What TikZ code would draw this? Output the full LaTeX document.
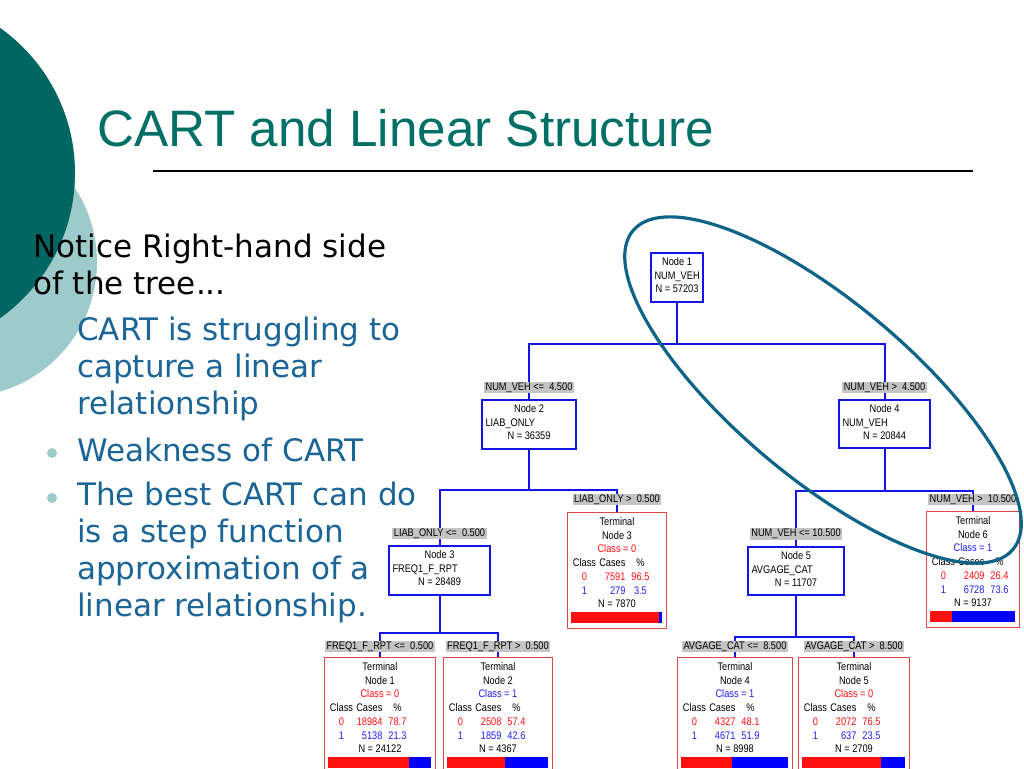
\documentclass[tikz,border=0pt]{standalone}
\usepackage{fontspec}
\newfontfamily\titlefont{Liberation Sans}
\newfontfamily\bodyfont{DejaVu Sans}
\newfontfamily\treefont[FakeStretch=0.84]{Liberation Sans}
\definecolor{darkteal}{HTML}{006661}
\definecolor{lightteal}{HTML}{9DCACA}
\definecolor{titleteal}{HTML}{007066}
\definecolor{bodyblue}{HTML}{1A6496}
\definecolor{treeblue}{HTML}{1414E6}
\definecolor{boxred}{HTML}{E04848}
\definecolor{tred}{HTML}{FF1010}
\definecolor{tblue}{HTML}{2020F0}
\definecolor{labgray}{HTML}{C4C4C4}
\definecolor{ellcol}{HTML}{0E6487}
\newcommand\tcell[3]{\makebox[\linewidth][l]{\hspace{5pt}\makebox[24pt][c]{#1}\makebox[29pt][r]{#2}\hspace{3pt}\makebox[24pt][c]{#3}}}
\newcommand\ttextbox[9]{%
  \path (#1.north) ++(0,13.5) node[ttxt] (#1-t) {\parbox[t]{#2pt}{\centering Terminal\\Node #3\\{\ifnum#4=0 \color{tred}\else\color{tblue}\fi Class = #4}\\\tcell{Class}{Cases}{\%}\\{\color{tred}\tcell{0}{#5}{#6}}\\{\color{tblue}\tcell{1}{#7}{#8}}\\N = #9}};}
\newcommand\stextbox[5]{%
  \path (#1.north) ++(0,13.5) node[ttxt] (#1-t) {\parbox[t]{#2pt}{\centering #3\\\makebox[\linewidth][l]{\hspace{3.5pt}#4}\\#5}};}
\newcommand\tbar[5]{% name, left, top, width, frac
  \pgfmathsetmacro\redend{#2+4+#5*(#4-8)}%
  \fill[tred] (#2+4,#3+100) rectangle (\redend,#3+111);
  \fill[blue] (\redend,#3+100) rectangle (#2+#4-4,#3+111);}
\tikzset{
  tl/.style={line width=2pt, draw=treeblue},
  sbox/.style={draw=treeblue, line width=2pt, fill=white, inner sep=0pt, anchor=north west},
  tbox/.style={draw=boxred, line width=0.9pt, fill=white, inner sep=0pt, anchor=north west, minimum height=116pt},
  cond/.style={fill=labgray, inner xsep=1.5pt, inner ysep=0.6pt, text height=8pt, text depth=2.4pt, font=\treefont\fontsize{11}{13.7}\selectfont},
  ttxt/.style={inner sep=0pt, anchor=base, font=\treefont\fontsize{11}{13.7}\selectfont},
  bodytxt/.style={inner sep=0pt, anchor=base west, font=\bodyfont\fontsize{31}{37}\selectfont},
  bul/.style={fill=lightteal},
}
\begin{document}
\begin{tikzpicture}[x=1pt,y=-1pt]
\useasboundingbox (0,0) rectangle (1024,768);
\clip (0,0) rectangle (1024,768);
% background circles
\fill[lightteal] (-38,262) circle[radius=135];
\fill[darkteal] (-103,173) circle[radius=178];
% title
\node[inner sep=0pt, anchor=base west, text=titleteal, font=\titlefont\fontsize{51.2}{60}\selectfont] (title) at (97,146) {CART and Linear Structure};
\draw[line width=1.2pt] (153,171) -- (973,171);
% body text
\node[bodytxt, text=black] (p1) at (33,257) {\parbox[t]{400pt}{\raggedright Notice Right-hand side\\of the tree...}};
\node[bodytxt, text=bodyblue] (p2) at (77,340) {\parbox[t]{400pt}{\raggedright CART is struggling to\\capture a linear\\relationship}};
\node[bodytxt, text=bodyblue] (p3) at (77,461) {Weakness of CART};
\node[bodytxt, text=bodyblue] (p4) at (77,505) {\parbox[t]{400pt}{\raggedright The best CART can do\\is a step function\\approximation of a\\linear relationship.}};
\fill[bul] (52,453) circle[radius=5];
\fill[bul] (52,498) circle[radius=5];
% split nodes
\node[sbox, minimum width=52pt, minimum height=49pt] (n1) at (650,252) {};
\node[sbox, minimum width=94pt, minimum height=49pt] (n2) at (481,399) {};
\node[sbox, minimum width=101pt, minimum height=49pt] (n3) at (388,545) {};
\node[sbox, minimum width=91pt, minimum height=48pt] (n4) at (838,399) {};
\node[sbox, minimum width=96pt, minimum height=48pt] (n5) at (747,546) {};
% terminal nodes
\node[tbox, minimum width=99pt] (tn3) at (567,512) {};
\node[tbox, minimum width=93pt] (tn6) at (926,511) {};
\node[tbox, minimum width=111pt] (tn1) at (324,657) {};
\node[tbox, minimum width=109pt] (tn2) at (443,657) {};
\node[tbox, minimum width=115pt] (tn4) at (677,657) {};
\node[tbox, minimum width=111pt] (tn5) at (798,657) {};
% texts
\stextbox{n1}{52}{Node 1}{NUM\_VEH}{N = 57203}
\stextbox{n2}{94}{Node 2}{LIAB\_ONLY}{N = 36359}
\stextbox{n3}{101}{Node 3}{FREQ1\_F\_RPT}{N = 28489}
\stextbox{n4}{91}{Node 4}{NUM\_VEH}{N = 20844}
\stextbox{n5}{96}{Node 5}{AVGAGE\_CAT}{N = 11707}
\ttextbox{tn3}{99}{3}{0}{7591}{96.5}{279}{3.5}{7870}
\ttextbox{tn6}{93}{6}{1}{2409}{26.4}{6728}{73.6}{9137}
\ttextbox{tn1}{111}{1}{0}{18984}{78.7}{5138}{21.3}{24122}
\ttextbox{tn2}{109}{2}{1}{2508}{57.4}{1859}{42.6}{4367}
\ttextbox{tn4}{115}{4}{1}{4327}{48.1}{4671}{51.9}{8998}
\ttextbox{tn5}{111}{5}{0}{2072}{76.5}{637}{23.5}{2709}
% bars
\tbar{tn3}{567}{512}{99}{0.965}
\tbar{tn6}{926}{511}{93}{0.264}
\tbar{tn1}{324}{657}{111}{0.787}
\tbar{tn2}{443}{657}{109}{0.574}
\tbar{tn4}{677}{657}{115}{0.481}
\tbar{tn5}{798}{657}{111}{0.765}
% connectors
\draw[tl] (n1.south) -- ++(0,41) coordinate (j1);
\draw[tl] (n2.north) |- (j1) -| (n4.north);
\draw[tl] (n2.south) -- ++(0,40) coordinate (j2);
\draw[tl] (n3.north) |- (j2) -| (tn3.north);
\draw[tl] (n4.south) -- ++(0,42) coordinate (j4);
\draw[tl] (n5.north) |- (j4) -| (tn6.north);
\draw[tl] (n3.south) -- ++(0,37) coordinate (j3);
\draw[tl] (tn1.north) |- (j3) -| (tn2.north);
\draw[tl] (n5.south) -- ++(0,41) coordinate (j5);
\draw[tl] (tn4.north) |- (j5) -| (tn5.north);
% condition labels
\path (n2.north) ++(0,-11.5) node[cond] (c1) {NUM\_VEH <=\ \ 4.500};
\path (n4.north) ++(0,-11.5) node[cond] (c2) {NUM\_VEH >\ \ 4.500};
\path (n3.north) ++(0,-11.5) node[cond] (c3) {LIAB\_ONLY <=\ \ 0.500};
\path (tn3.north) ++(0,-12.5) node[cond] (c4) {LIAB\_ONLY >\ \ 0.500};
\path (n5.north) ++(0,-12) node[cond] (c5) {NUM\_VEH <= 10.500};
\path (tn6.north) ++(0,-11.5) node[cond] (c6) {NUM\_VEH >\ \ 10.500};
\path (tn1.north) ++(0,-10.5) node[cond] (c7) {FREQ1\_F\_RPT <=\ \ 0.500};
\path (tn2.north) ++(0,-10.5) node[cond] (c8) {FREQ1\_F\_RPT >\ \ 0.500};
\path (tn4.north) ++(0,-10.5) node[cond] (c9) {AVGAGE\_CAT <=\ \ 8.500};
\path (tn5.north) ++(0,-10.5) node[cond] (c10) {AVGAGE\_CAT >\ \ 8.500};
% highlight ellipse
\draw[ellcol, line width=3.2pt, rotate around={-40:(823,390)}] (823,390) ellipse [x radius=248, y radius=88];
\end{tikzpicture}
\end{document}
